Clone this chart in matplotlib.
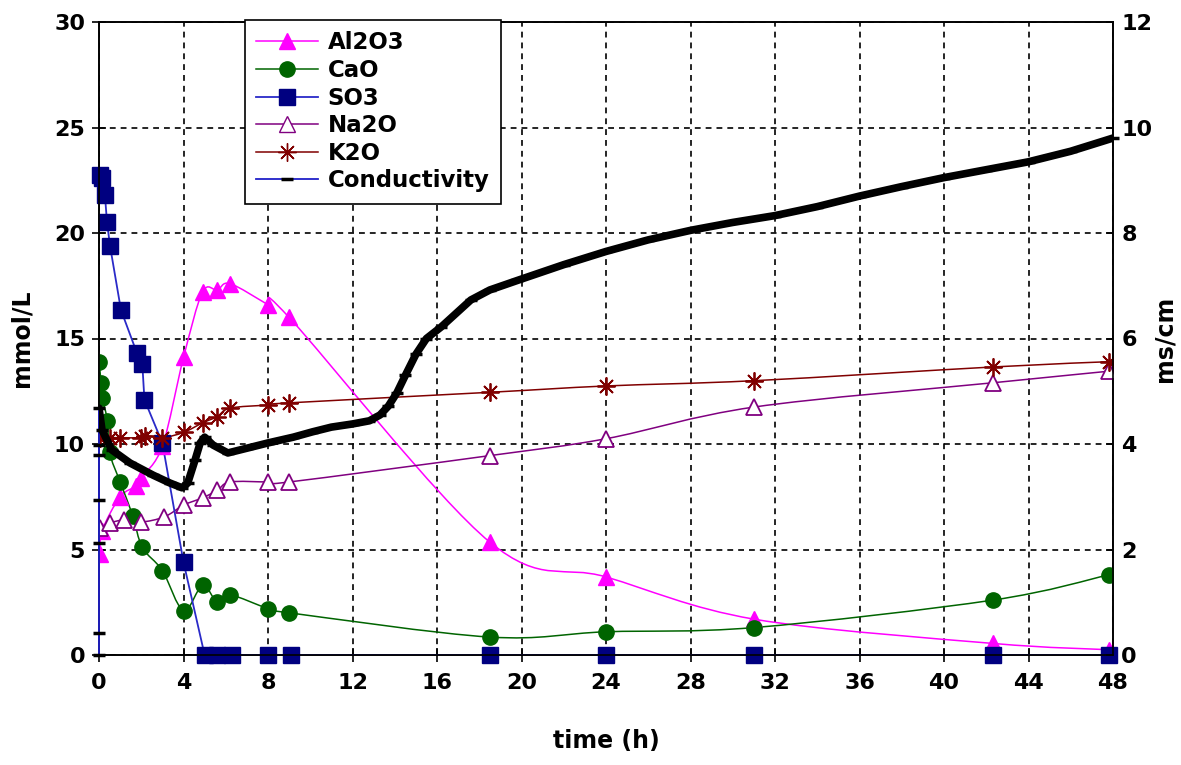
import numpy as np
import matplotlib
matplotlib.use("Agg")
import matplotlib.pyplot as plt
from matplotlib.path import Path
from matplotlib.patches import PathPatch
from matplotlib.lines import Line2D

plt.rcParams['font.family'] = ['DejaVu Sans']
plt.rcParams['font.weight'] = 'bold'

# data (time in h, oxides in mmol/L, conductivity in ms/cm)
al_t = [0.05, 0.15, 1.0, 1.75, 2.0, 3.0, 4.0, 4.9, 5.6, 6.2, 8.0, 9.0, 18.5, 24.0, 31.0, 42.3, 47.8]
al_v = [4.8, 5.9, 7.5, 8.0, 8.4, 9.9, 14.1, 17.2, 17.3, 17.6, 16.6, 16.0, 5.35, 3.7, 1.7, 0.55, 0.25]

ca_t = [0.0, 0.1, 0.15, 0.4, 0.5, 1.0, 1.6, 2.05, 3.0, 4.0, 4.9, 5.6, 6.2, 8.0, 9.0, 18.5, 24.0, 31.0, 42.3, 47.8]
ca_v = [13.9, 12.9, 12.2, 11.1, 9.6, 8.2, 6.6, 5.1, 4.0, 2.1, 3.3, 2.5, 2.85, 2.2, 2.0, 0.85, 1.1, 1.3, 2.6, 3.8]

so_t = [0.05, 0.14, 0.28, 0.38, 0.52, 1.04, 1.8, 2.05, 2.15, 3.0, 4.0, 5.0, 5.6, 6.3, 8.0, 9.1, 18.5, 24.0, 31.0, 42.3, 47.8]
so_v = [22.75, 22.6, 21.8, 20.5, 19.4, 16.35, 14.3, 13.8, 12.1, 10.05, 4.4, 0, 0, 0, 0, 0, 0, 0, 0, 0, 0]

na_t = [0.05, 0.5, 1.2, 2.0, 3.1, 4.0, 4.9, 5.6, 6.2, 8.0, 9.0, 18.5, 24.0, 31.0, 42.3, 47.8]
na_v = [6.0, 6.25, 6.4, 6.3, 6.55, 7.1, 7.45, 7.8, 8.2, 8.2, 8.2, 9.45, 10.25, 11.75, 12.9, 13.45]

k_t = [0.05, 0.5, 1.0, 2.0, 2.2, 3.0, 4.0, 4.9, 5.6, 6.2, 8.0, 9.0, 18.5, 24.0, 31.0, 42.3, 47.8]
k_v = [10.3, 10.3, 10.3, 10.3, 10.4, 10.3, 10.55, 11.0, 11.3, 11.7, 11.85, 11.95, 12.45, 12.75, 13.0, 13.65, 13.9]

# conductivity: first readings near t=0, then the logged curve
cond_t = [0, 0, 0, 0, 0, 0, 0.0, 0.14, 0.6, 1.47, 2.56, 3.36, 3.93, 4.2, 4.55, 4.79, 5.0, 5.4, 6.1,
          7.0, 8.0, 9.2, 10.1, 11.0, 12.0, 12.8, 13.3, 13.7, 14.1, 14.5, 15.0, 15.5, 16.2, 17.6,
          18.5, 19.8, 22.0, 24.0, 26.0, 28.0, 30.0, 32.0, 34.0, 36.0, 38.0, 40.0, 42.0, 44.0, 46.0, 48.0]
cond_v = [0, 0.42, 2.12, 2.94, 3.79, 3.98, 4.68, 4.27, 3.89, 3.64, 3.41, 3.26, 3.17, 3.26, 3.70, 4.02,
          4.13, 3.98, 3.83, 3.92, 4.02, 4.13, 4.23, 4.32, 4.38, 4.44, 4.55, 4.72, 4.97, 5.3, 5.7, 6.0,
          6.22, 6.73, 6.92, 7.1, 7.4, 7.65, 7.87, 8.05, 8.2, 8.33, 8.5, 8.7, 8.88, 9.05, 9.2, 9.35, 9.55, 9.8]


def smooth_path(t, v):
    # excel style smoothed line (bezier through the points)
    p = np.column_stack([t, v]).astype(float)
    verts = [p[0]]
    codes = [Path.MOVETO]
    n = len(p)
    for i in range(n - 1):
        p0 = p[i - 1] if i > 0 else p[i]
        p3 = p[i + 2] if i + 2 < n else p[i + 1]
        c1 = p[i] + (p[i + 1] - p0) / 6
        c2 = p[i + 1] - (p3 - p[i]) / 6
        verts += [c1, c2, p[i + 1]]
        codes += [Path.CURVE4] * 3
    return Path(verts, codes)


fig = plt.figure(figsize=(11.81, 7.65), dpi=100)
ax = fig.add_axes([99 / 1181, 1 - 655 / 765, (1113 - 99) / 1181, (655 - 22) / 765])
ax2 = ax.twinx()

col_al = '#FF00FF'
col_ca = '#006400'
col_so = '#000080'
col_na = '#800080'
col_k = '#800000'

# smoothed lines
for t, v, c in [(al_t, al_v, col_al), (ca_t, ca_v, col_ca), (na_t, na_v, col_na), (k_t, k_v, col_k)]:
    ax.add_patch(PathPatch(smooth_path(t, v), fill=False, edgecolor=c, lw=1.1, zorder=3))

ax.plot(so_t, so_v, color='#2a2ac8', lw=1.3, zorder=3)

ax.plot(al_t, al_v, ls='none', marker='^', ms=12, color=col_al, zorder=4)
ax.plot(ca_t, ca_v, ls='none', marker='o', ms=11, color=col_ca, zorder=4)
ax.plot(so_t, so_v, ls='none', marker='s', ms=11, color=col_so, zorder=4, clip_on=False)
ax.plot(na_t, na_v, ls='none', marker='^', ms=12, mfc='white', mec=col_na, mew=1.3, zorder=4)
ax.plot(k_t, k_v, ls='none', marker=(8, 2, 0), ms=13, mec=col_k, mew=1.3, zorder=4)

# conductivity on the right axis
ax2.plot(cond_t, cond_v, color='#2020c8', lw=1.3, marker='_', ms=8, mec='black', mew=2.5,
         zorder=3, clip_on=False)
ax2.plot(cond_t[6:], cond_v[6:], color='black', lw=5.5, solid_capstyle='round', zorder=3)

ax.set_xlim(0, 48)
ax.set_ylim(0, 30)
ax2.set_ylim(0, 12)
ax.set_xticks(np.arange(0, 49, 4))
ax.set_yticks(np.arange(0, 31, 5))
ax2.set_yticks(np.arange(0, 13, 2))

ax.grid(True, color='black', ls=(0, (3.5, 3)), lw=1.2)
ax.tick_params(axis='both', direction='inout', length=10, width=1.2, labelsize=16, pad=5)
ax.tick_params(axis='x', pad=8)
ax2.tick_params(axis='y', direction='in', length=5, width=1.2, labelsize=16, pad=6)
for a in (ax, ax2):
    for s in a.spines.values():
        s.set_linewidth(1.2)
    for lab in a.get_xticklabels() + a.get_yticklabels():
        lab.set_fontweight('bold')

ax.set_xlabel('time (h)', fontsize=17, fontweight='bold', labelpad=26)
ax.set_ylabel('mmol/L', fontsize=17, fontweight='bold', labelpad=15)
ax2.set_ylabel('ms/cm', fontsize=17, fontweight='bold', labelpad=0)

handles = [
    Line2D([], [], color=col_al, marker='^', ms=12, lw=1.1),
    Line2D([], [], color=col_ca, marker='o', ms=11, lw=1.1),
    Line2D([], [], color='#2a2ac8', marker='s', ms=11, mfc=col_so, mec=col_so, lw=1.3),
    Line2D([], [], color=col_na, marker='^', ms=12, mfc='white', mec=col_na, lw=1.1),
    Line2D([], [], color=col_k, marker=(8, 2, 0), ms=13, lw=1.1),
    Line2D([], [], color='#2020c8', marker='_', ms=8, mec='black', mew=2.5, lw=1.3),
]
labels = ['Al2O3', 'CaO', 'SO3', 'Na2O', 'K2O', 'Conductivity']
leg = ax2.legend(handles, labels, loc='upper left', bbox_to_anchor=(245 / 1181, 1 - 20 / 765),
                 bbox_transform=fig.transFigure, borderaxespad=0, frameon=True, fancybox=False,
                 framealpha=1, edgecolor='black', handlelength=2.7, labelspacing=0.2,
                 borderpad=0.5, handletextpad=0.4, prop={'weight': 'bold', 'size': 16.5})
leg.get_frame().set_linewidth(1.2)
leg.set_zorder(10)

fig.savefig('out.png', dpi=100)
